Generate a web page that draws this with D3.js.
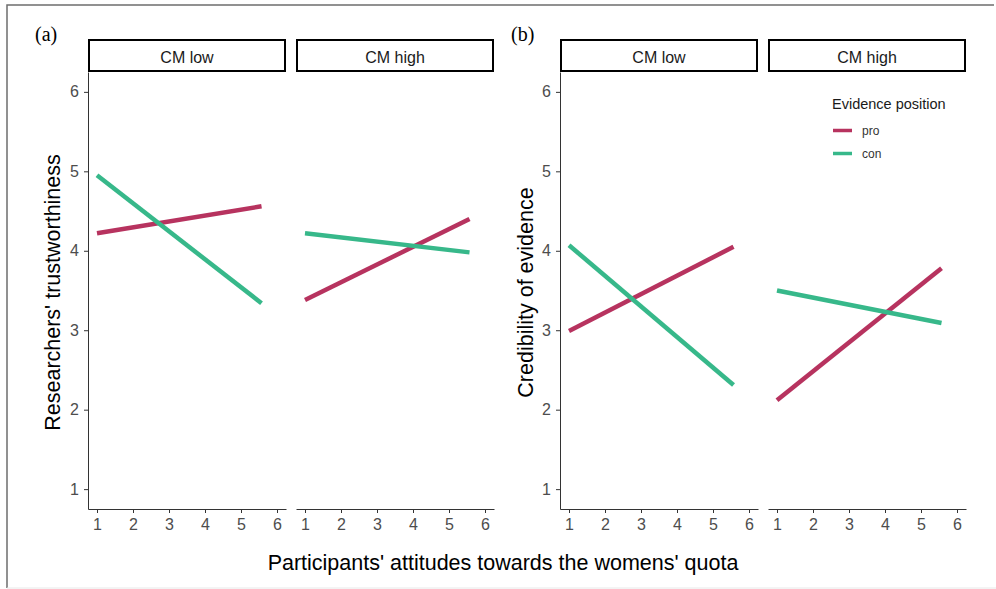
<!DOCTYPE html>
<html>
<head>
<meta charset="utf-8">
<script src="https://cdn.jsdelivr.net/npm/d3@7"></script>
<style>
  body { margin: 0; background: #fff; }
  svg { display: block; }
  .tick text { fill: #4d4d4d; font-family: "Liberation Sans", Arial, sans-serif; font-size: 16px; }
  .tick line, .domain { stroke: #333; }
</style>
</head>
<body>
<div id="chart"></div>
<script>
// data
var facets = ["CM low", "CM high"]
var positions = ["pro", "con"]
var xTicks = [1, 2, 3, 4, 5, 6]
var yTicks = [1, 2, 3, 4, 5, 6]
var attitudeRange = [1, 5.57]   // fitted line runs from x=1 to x=5.57

// [start, end] of each fitted line, per facet (CM low, CM high)
var trustPro = [[4.22, 4.56], [3.38, 4.40]]
var trustCon = [[4.95, 3.34], [4.22, 3.98]]
var credPro = [[2.99, 4.05], [2.12, 3.78]]
var credCon = [[4.07, 2.31], [3.50, 3.09]]

var colors = { pro: "#b7335f", con: "#37b88a" }

var width = 996, height = 589
var svg = d3.select("#chart").append("svg")
  .attr("width", width)
  .attr("height", height)

// outer frame of the figure
svg.append("path")
  .attr("d", "M7,588 L7,5 L994,5")
  .attr("fill", "none")
  .attr("stroke", "#6e6e6e")
  .attr("stroke-width", 1.5)
svg.append("line")
  .attr("x1", 7).attr("x2", 996).attr("y1", 588).attr("y2", 588)
  .attr("stroke", "#e8e8e8")

var plotTop = 72, plotBottom = 509
var stripTop = 39
var panelW = 198

var y = d3.scaleLinear().domain([0.75, 6.25]).range([plotBottom, plotTop])

function drawFigure(label, labelX, panelLefts, yTitle, yTitleX, pro, con) {
  svg.append("text")
    .attr("x", labelX)
    .attr("y", 41)
    .style("font-family", "'Liberation Serif', 'Times New Roman', serif")
    .style("font-size", "20px")
    .text(label)

  panelLefts.forEach(function(left, i) {
    var x = d3.scaleLinear().domain([0.75, 6.25]).range([left, left + panelW])

    // strip
    svg.append("rect")
      .attr("x", left + 1)
      .attr("y", stripTop + 1)
      .attr("width", panelW - 2)
      .attr("height", plotTop - stripTop - 2)
      .attr("fill", "#fff")
      .attr("stroke", "#000")
      .attr("stroke-width", 2)
    svg.append("text")
      .attr("x", left + panelW / 2)
      .attr("y", (stripTop + plotTop) / 2 + 7)
      .attr("text-anchor", "middle")
      .style("font-family", "'Liberation Sans', Arial, sans-serif")
      .style("font-size", "16px")
      .style("fill", "#1a1a1a")
      .text(facets[i])

    // x axis
    svg.append("g")
      .attr("transform", "translate(0," + plotBottom + ")")
      .call(d3.axisBottom(x).tickValues(xTicks).tickFormat(d3.format("d"))
        .tickSize(4).tickSizeOuter(0).tickPadding(6))

    // y axis only on the first panel
    if (i == 0) {
      svg.append("g")
        .attr("transform", "translate(" + left + ",0)")
        .call(d3.axisLeft(y).tickValues(yTicks).tickFormat(d3.format("d"))
          .tickSize(4).tickSizeOuter(0).tickPadding(5))
    }

    var series = [
      { key: "pro", vals: pro[i] },
      { key: "con", vals: con[i] }
    ]
    series.forEach(function(s) {
      var pts = attitudeRange.map(function(a, j) { return [a, s.vals[j]] })
      svg.append("path")
        .attr("d", d3.line().x(function(d) { return x(d[0]) }).y(function(d) { return y(d[1]) })(pts))
        .attr("fill", "none")
        .attr("stroke", colors[s.key])
        .attr("stroke-width", 4.5)
    })
  })

  svg.append("text")
    .attr("transform", "translate(" + yTitleX + "," + ((plotTop + plotBottom) / 2 + 2) + ") rotate(-90)")
    .attr("text-anchor", "middle")
    .style("font-family", "'Liberation Sans', Arial, sans-serif")
    .style("font-size", "21.5px")
    .style("fill", "#000")
    .text(yTitle)
}

drawFigure("(a)", 35, [88, 296], "Researchers' trustworthiness", 60, trustPro, trustCon)
drawFigure("(b)", 511, [560, 768], "Credibility of evidence", 533, credPro, credCon)

// shared x title
svg.append("text")
  .attr("x", 503)
  .attr("y", 570)
  .attr("text-anchor", "middle")
  .style("font-family", "'Liberation Sans', Arial, sans-serif")
  .style("font-size", "21.5px")
  .style("fill", "#000")
  .text("Participants' attitudes towards the womens' quota")

// legend
var legend = svg.append("g").attr("transform", "translate(832,0)")
legend.append("text")
  .attr("x", 0)
  .attr("y", 109)
  .style("font-family", "'Liberation Sans', Arial, sans-serif")
  .style("font-size", "14.5px")
  .style("fill", "#1a1a1a")
  .text("Evidence position")
positions.forEach(function(p, i) {
  var ly = 130.5 + i * 23
  legend.append("line")
    .attr("x1", 1).attr("x2", 20)
    .attr("y1", ly).attr("y2", ly)
    .attr("stroke", colors[p])
    .attr("stroke-width", 3.5)
  legend.append("text")
    .attr("x", 30)
    .attr("y", ly + 4.5)
    .style("font-family", "'Liberation Sans', Arial, sans-serif")
    .style("font-size", "12px")
    .style("fill", "#333")
    .text(p)
})
</script>
</body>
</html>
